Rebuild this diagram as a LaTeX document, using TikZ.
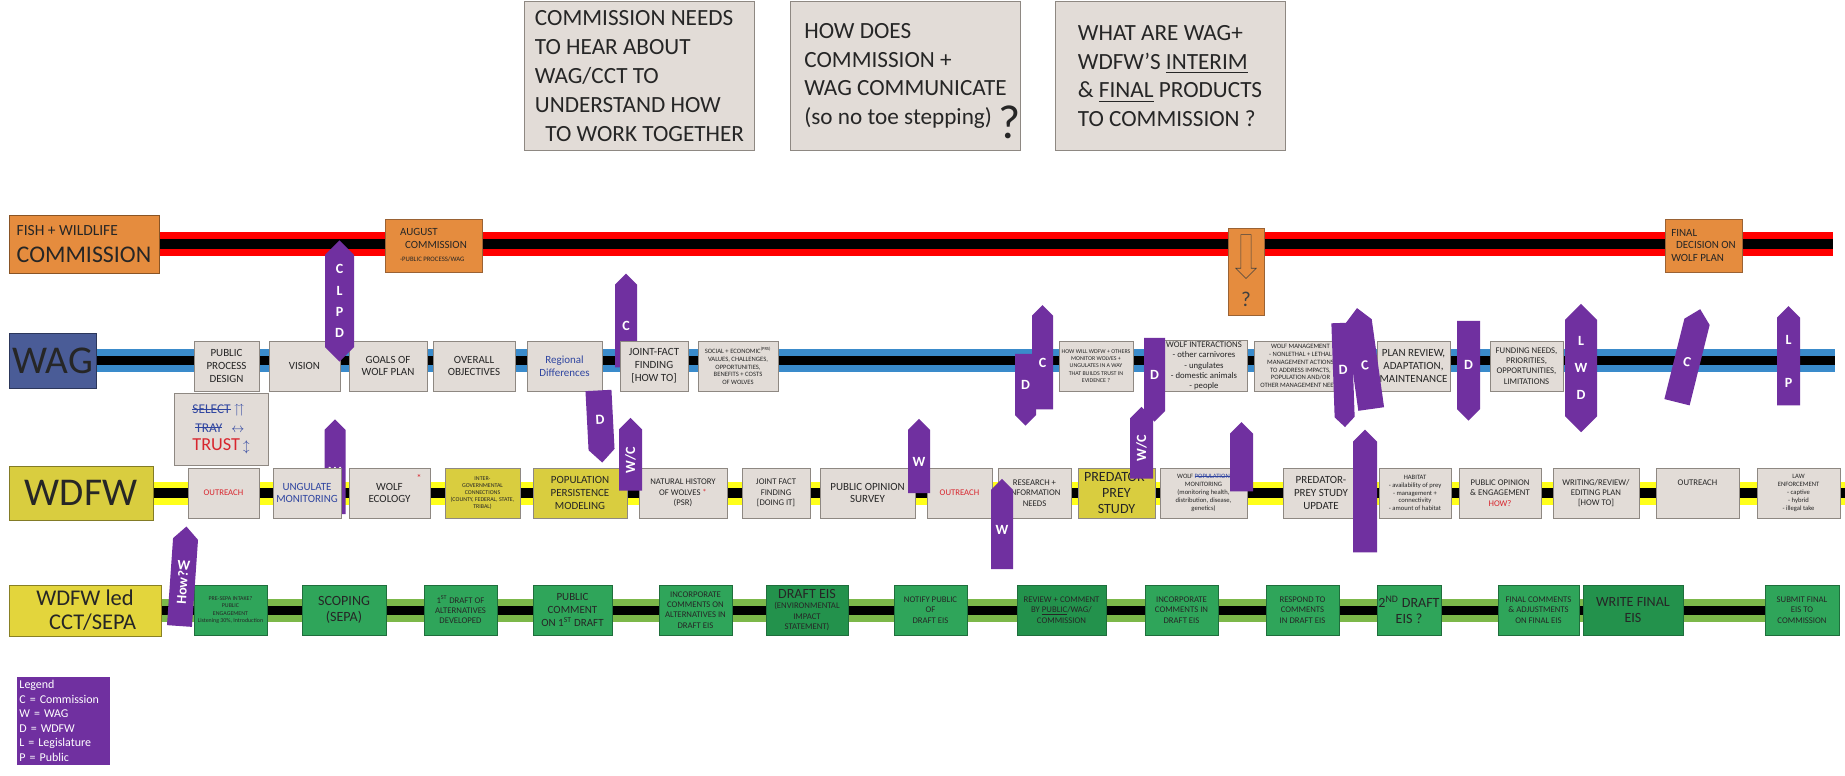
\documentclass[tikz,border=0pt]{standalone}
\usepackage{fontspec}
\setmainfont{Carlito}
\usepackage{amssymb}
\usetikzlibrary{shapes.symbols,shapes.arrows,backgrounds}

\newcommand{\strikeword}[1]{\setbox0\hbox{#1}\rlap{\rule[0.3em]{\wd0}{0.6pt}}\box0}

\definecolor{laneRed}{HTML}{FF0000}
\definecolor{laneBlue}{HTML}{3A8BCB}
\definecolor{laneYellow}{HTML}{FFFF1A}
\definecolor{laneGreen}{HTML}{7CB84A}
\definecolor{noteGrey}{HTML}{E2DCD7}
\definecolor{noteEdge}{HTML}{8E8882}
\definecolor{commOrange}{HTML}{E58C3E}
\definecolor{commEdge}{HTML}{9A6234}
\definecolor{wagBlue}{HTML}{4A5C97}
\definecolor{wdfwYellow}{HTML}{D9CD3F}
\definecolor{cctYellow}{HTML}{E3D53C}
\definecolor{cctGreen}{HTML}{2FA55A}
\definecolor{cctDark}{HTML}{23924C}
\definecolor{cctEdge}{HTML}{1F6E3C}
\definecolor{tagPurple}{HTML}{7030A0}
\definecolor{inkRed}{HTML}{D8262E}
\definecolor{inkBlue}{HTML}{2F45A0}

\tikzset{
  every card/.style={draw=noteEdge, fill=noteGrey, align=center, inner sep=1pt,
    minimum height=1.25cm, text=black!85},
  comm card/.style={every card, fill=commOrange, draw=commEdge},
  txt big/.style={font=\fontsize{10}{11.5}\selectfont},
  txt mid/.style={font=\fontsize{7.8}{9.2}\selectfont},
  txt small/.style={font=\fontsize{6.2}{7.3}\selectfont},
  txt tiny/.style={font=\fontsize{4.7}{5.6}\selectfont},
  txt wee/.style={font=\fontsize{4.2}{5.1}\selectfont},
  lane label/.style={draw=#1!60!black, fill=#1, inner sep=1pt, text=black!85},
  lane/.style={draw=#1, line width=0.575cm, postaction={draw=black, line width=0.23cm}},
  every tag/.style={signal, fill=tagPurple, text=white, inner sep=1pt, align=center,
    font=\fontsize{10}{15}\selectfont\bfseries},
  tag up/.style={signal to=north},
  tag down/.style={signal to=south},
  tag both/.style={signal to=north and south},
  wag card 5/.style={text=inkBlue},
  wdfw card 1/.style={text=inkRed},
  wdfw card 2/.style={text=inkBlue},
  wdfw card 4/.style={fill=wdfwYellow},
  wdfw card 5/.style={fill=wdfwYellow},
  wdfw card 9/.style={text=inkRed},
  wdfw card 11/.style={fill=wdfwYellow},
  cct card/.style={fill=cctGreen, draw=cctEdge},
  cct card 6/.style={fill=cctDark},
  cct card 8/.style={fill=cctDark},
  cct card 13/.style={fill=cctDark},
}

\begin{document}
\begin{tikzpicture}[x=0.025cm, y=-0.025cm]
  \useasboundingbox (0,0) rectangle (1845,775);

  % open questions
  \foreach \x/\t [count=\i] in {
      639.5/{COMMISSION NEEDS\\TO HEAR ABOUT\\WAG/CCT TO\\UNDERSTAND HOW\\\ \ TO WORK TOGETHER},
      905.5/{HOW DOES\\COMMISSION +\\WAG COMMUNICATE\\(so no toe stepping)},
      1170/{WHAT ARE WAG+\\WDFW'S \underline{INTERIM}\\\& \underline{FINAL} PRODUCTS\\TO COMMISSION ?}}
    \node [every card, align=left, font=\fontsize{16.5}{20.5}\selectfont,
      minimum width=5.75cm, minimum height=3.725cm] (note-\i) at (\x,76) {\t};
  \node [font=\fontsize{34}{34}\selectfont, text=black!85] (note-q)
    at ([xshift=-8pt,yshift=-33pt]note-2.east) {?};

  % swim lane labels
  \node [lane label=commOrange, align=left, minimum width=3.75cm, minimum height=1.45cm,
    font=\fontsize{17}{19}\selectfont]
    (comm) at (84,244) {{\fontsize{11}{11}\selectfont FISH + WILDLIFE}\\COMMISSION};
  \node [lane label=wagBlue, minimum width=2.175cm, minimum height=1.375cm,
    font=\fontsize{28}{28}\selectfont] (wag) at (52.5,360.5) {WAG};
  \node [lane label=wdfwYellow, minimum width=3.6cm, minimum height=1.35cm,
    font=\fontsize{28}{28}\selectfont] (wdfw) at (81,493) {WDFW};
  \node [lane label=cctYellow, align=center, minimum width=3.8cm, minimum height=1.275cm,
    font=\fontsize{16}{17}\selectfont] (cct) at (85,610.5) {WDFW led\\\ \ \ CCT/SEPA};

  \coordinate (comm-end) at (1833,244);
  \coordinate (wag-end) at (1835,360.5);
  \coordinate (wdfw-end) at (1845,493);
  \coordinate (cct-end) at (1800,610.5);

  % commission lane
  \node [comm card, align=left, txt mid, minimum width=2.425cm, minimum height=1.325cm]
    (comm-aug) at (433.5,245.5) {AUGUST\\\ \ COMMISSION\\{\fontsize{4.8}{5.5}\selectfont -PUBLIC PROCESS/WAG}};
  \node [comm card, minimum width=0.9cm, minimum height=2.175cm] (comm-ask) at (1246,271.5) {};
  \node [single arrow, draw=black!75, shape border rotate=270, minimum height=1.1cm,
    inner sep=0.12cm, single arrow head extend=0.13cm] (comm-arrow) at (1246,254) {};
  \node [font=\fontsize{15}{15}\selectfont, text=black!75] (comm-q) at (1246,299) {?};
  \node [comm card, align=left, txt mid, minimum width=1.925cm, minimum height=1.325cm]
    (comm-final) at (1703.5,245.5) {FINAL\\\ \ DECISION ON\\WOLF PLAN};

  % tags that sit under the cards
  \foreach \x/\y/\w/\h/\d/\r/\t [count=\i] in {
      626/326/22/88/up/0/{C},
      335/472/21/92/up/0/{W}}
    \node [every tag, tag \d, rotate=\r, minimum width={\w*0.025cm},
      minimum height={\h*0.025cm}] (low-tag-\i) at (\x,\y) {\t};

  % WAG lane
  \foreach \a/\b/\k/\t [count=\i] in {
      194/259/mid/{PUBLIC\\PROCESS\\DESIGN},
      269/340/mid/{VISION},
      349/427/mid/{GOALS OF\\WOLF PLAN},
      433/515/mid/{OVERALL\\OBJECTIVES},
      527/602/mid/{Regional\\Differences},
      620/688/mid/{JOINT-FACT\\FINDING\\{[HOW TO]}},
      698/778/tiny/{SOCIAL + ECONOMIC\textsuperscript{(PRS)}\\VALUES, CHALLENGES,\\OPPORTUNITIES,\\BENEFITS + COSTS\\OF WOLVES},
      1059/1133/wee/{HOW WILL WDFW + OTHERS\\MONITOR WOLVES +\\UNGULATES IN A WAY\\THAT BUILDS TRUST IN\\EVIDENCE ?},
      1161/1247/small/{WOLF INTERACTIONS\\- other carnivores\\- ungulates\\- domestic animals\\- people},
      1254/1347/tiny/{WOLF MANAGEMENT\\- NONLETHAL + LETHAL\\MANAGEMENT ACTIONS\\TO ADDRESS IMPACTS,\\POPULATION AND/OR\\OTHER MANAGEMENT NEEDS},
      1377/1450/mid/{PLAN REVIEW,\\ADAPTATION,\\MAINTENANCE},
      1490/1563/small/{FUNDING NEEDS,\\PRIORITIES,\\OPPORTUNITIES,\\LIMITATIONS}}
    \node [every card, txt \k, wag card \i/.try, minimum width={(\b-\a)*0.025cm}]
      (wag-\i) at ({(\a+\b)/2},366) {\t};

  \node [every card, align=left, font=\fontsize{9.5}{13}\selectfont, minimum width=2.35cm,
    minimum height=1.8cm] (trust) at (221,429)
    {\textcolor{inkBlue}{\strikeword{SELECT}\ $\upuparrows$}\\
     \textcolor{inkBlue}{\ \strikeword{TRAY}\ \ \ $\leftrightarrow$}\\
     {\fontsize{13}{13}\selectfont\textcolor{inkRed}{TRUST}}\ \textcolor{inkBlue}{$\updownarrow$}};

  % WDFW lane
  \foreach \a/\b/\k/\t [count=\i] in {
      188/259/small/{OUTREACH},
      273/341/mid/{UNGULATE\\MONITORING},
      349/430/mid/{WOLF\\ECOLOGY},
      445/520/wee/{INTER-\\GOVERNMENTAL\\CONNECTIONS\\(COUNTY, FEDERAL, STATE,\\TRIBAL)},
      533/627/mid/{POPULATION\\PERSISTENCE\\MODELING},
      639/727/small/{NATURAL HISTORY\\OF WOLVES \textcolor{inkRed}{*}\\(PSR)},
      742/810/small/{JOINT FACT\\FINDING\\{[DOING IT]}},
      820/915/mid/{PUBLIC OPINION\\SURVEY},
      927/992/small/{OUTREACH},
      998/1071/small/{RESEARCH +\\INFORMATION\\NEEDS},
      1078/1155/big/{PREDATOR-\\PREY\\STUDY},
      1160/1247/tiny/{WOLF \textcolor{inkBlue}{\strikeword{POPULATION}}\\MONITORING\\(monitoring health,\\distribution, disease,\\genetics)},
      1283/1359/mid/{PREDATOR-\\PREY STUDY\\UPDATE},
      1379/1451/tiny/{HABITAT\\- availability of prey\\- management +\\connectivity\\- amount of habitat},
      1459/1541/small/{PUBLIC OPINION\\\& ENGAGEMENT\\\textcolor{inkRed}{HOW?}},
      1553/1639/small/{WRITING/REVIEW/\\EDITING PLAN\\{[HOW TO]}},
      1656/1739/small/{OUTREACH\\~\\~},
      1757/1840/tiny/{LAW\\ENFORCEMENT\\- captive\\- hybrid\\- illegal take}}
    \node [every card, txt \k, wdfw card \i/.try, minimum width={(\b-\a)*0.025cm}]
      (wdfw-\i) at ({(\a+\b)/2},493) {\t};
  \node [text=inkRed, font=\fontsize{7}{7}\selectfont] (wdfw-3-mark) at ([xshift=-8pt,yshift=-7pt]wdfw-3.north east) {*};

  % CCT/SEPA lane
  \foreach \a/\b/\k/\t [count=\i] in {
      194/267/wee/{PRE-SEPA INTAKE?\\PUBLIC\\ENGAGEMENT\\Listening 30\%, Introduction},
      302/386/big/{SCOPING\\(SEPA)},
      424/497/small/{1\textsuperscript{ST} DRAFT OF\\ALTERNATIVES\\DEVELOPED},
      533/612/mid/{PUBLIC\\COMMENT\\ON 1\textsuperscript{ST} DRAFT},
      659/732/small/{INCORPORATE\\COMMENTS ON\\ALTERNATIVES IN\\DRAFT EIS},
      766/848/small/{{\fontsize{10}{11}\selectfont DRAFT EIS}\\(ENVIRONMENTAL\\IMPACT\\STATEMENT)},
      894/967/small/{NOTIFY PUBLIC\\OF\\DRAFT EIS},
      1017/1106/small/{REVIEW + COMMENT\\BY \underline{PUBLIC}/WAG/\\COMMISSION},
      1145/1218/small/{INCORPORATE\\COMMENTS IN\\DRAFT EIS},
      1266/1339/small/{RESPOND TO\\COMMENTS\\IN DRAFT EIS},
      1377/1441/big/{2\textsuperscript{ND} DRAFT\\EIS ?},
      1498/1579/small/{FINAL COMMENTS\\\& ADJUSTMENTS\\ON FINAL EIS},
      1583/1683/big/{WRITE FINAL\\EIS},
      1765/1839/small/{SUBMIT FINAL\\EIS TO\\COMMISSION}}
    \node [every card, cct card, txt \k, cct card \i/.try, minimum width={(\b-\a)*0.025cm}]
      (cct-\i) at ({(\a+\b)/2},610) {\t};

  % who-does-what tags
  \foreach \x/\y/\w/\h/\d/\r/\t [count=\i] in {
      339.5/301/29/104/both/0/{C\\L\\P\\D},
      600/420/26/65/down/3/{D},
      1025.5/384.5/21/67/down/0/{D},
      1042.5/362.5/21/99/up/0/{C},
      1154.5/374.5/21/79/down/0/{D},
      1343/370/20/100/down/2/{D},
      1365/365/26/94/up/8/{C},
      1468.5/365/23/94/down/0/{D},
      1581/368/32/112/both/0/{L\\[4pt]W\\[4pt]D},
      1687/362/26/88/up/-14/{C},
      1788.5/361.5/23/93/up/0/{L\\[16pt]P},
      630.5/460/23/68/up/0/{\rotatebox{90}{W/C}},
      919/461.5/22/71/up/0/{W},
      1002/529.5/22/87/up/0/{W},
      1141.5/448.5/23/67/up/0/{\rotatebox{90}{W/C}},
      1241.5/462.5/23/59/up/0/{},
      1365/497/24/112/up/0/{},
      182.5/582.5/25/95/up/-4/{W\\\rotatebox{90}{How?}}}
    \node [every tag, tag \d, rotate=\r, minimum width={\w*0.025cm},
      minimum height={\h*0.025cm}] (tag-\i) at (\x,\y) {\t};

  % legend
  \node [fill=tagPurple, text=white, align=left, text width=2.2cm, inner sep=2pt,
    minimum height=2.2cm, font=\fontsize{8.5}{10.3}\selectfont] (legend) at (63.5,721)
    {Legend\\C = Commission\\W = WAG\\D = WDFW\\L = Legislature\\P = Public};

  \begin{scope}[on background layer]
    \fill [white] (0,0) rectangle (1845,775);
    \draw [lane=laneRed] (comm.east) -- (comm-end);
    \draw [lane=laneBlue] (wag.east) -- (wag-end);
    \draw [lane=laneYellow] (wdfw.east) -- (wdfw-end);
    \draw [lane=laneGreen] (cct.east) -- (cct-end);
  \end{scope}
\end{tikzpicture}
\end{document}
